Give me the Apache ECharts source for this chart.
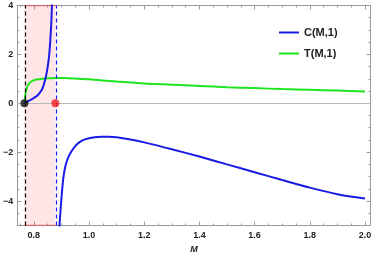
<!DOCTYPE html>
<html><head><meta charset="utf-8">
<script src="https://cdn.jsdelivr.net/npm/echarts@6/dist/echarts.min.js"></script>
<style>html,body{margin:0;padding:0;background:#fff}#c{width:375px;height:262px}</style>
</head><body><div id="c"></div>
<script>
// ---- data ----
const xTickLabels = [0.8, 1.0, 1.2, 1.4, 1.6, 1.8, 2.0];
const yTickLabels = [-4, -2, 0, 2, 4];
const xMinorTicks = [0.75,0.8,0.85,0.9,0.95,1.0,1.05,1.1,1.15,1.2,1.25,1.3,1.35,1.4,1.45,1.5,1.55,1.6,1.65,1.7,1.75,1.8,1.85,1.9,1.95,2.0];
const yMinorTicks = [-5,-4.5,-4,-3.5,-3,-2.5,-2,-1.5,-1,-0.5,0,0.5,1,1.5,2,2.5,3,3.5,4];
const criticalM = [0.766, 0.878];   // black dashed / blue dashed positions
const xRange = [0.74, 2.02];
const yRange = [-5, 4];

const cBranch1M = [0.766,0.775,0.785,0.795,0.805,0.815,0.825,0.832,0.839,0.845,0.851,0.855,0.858,0.861,0.863,0.865,0.866];
const cBranch1  = [0,    0.06, 0.12, 0.18, 0.25, 0.34, 0.48, 0.62, 0.88, 1.15, 1.55, 1.9,  2.3,  2.8,  3.2,  3.8,  4.2];

const cBranch2M = [0.890,0.893,0.896,0.899,0.903,0.907,0.912,0.918,0.926,0.936,0.948,0.960,0.98,1.0,1.02,1.045,1.07,1.1,1.15,1.2,1.3,1.4,1.5,1.6,1.7,1.8,1.9,2.0];
const cBranch2  = [-5.6,-5.0,-4.5,-4.05,-3.5,-3.05,-2.7,-2.42,-2.18,-1.97,-1.78,-1.64,-1.5,-1.43,-1.39,-1.37,-1.37,-1.39,-1.48,-1.6,-1.88,-2.18,-2.5,-2.82,-3.14,-3.45,-3.72,-3.9];

const tM = [0.766,0.7675,0.769,0.771,0.774,0.778,0.783,0.79,0.80,0.815,0.83,0.85,0.88,0.91,0.95,1.0,1.1,1.2,1.3,1.4,1.5,1.6,1.7,1.8,1.9,2.0];
const tV = [0,    0.2,   0.32, 0.46, 0.6,  0.72, 0.81, 0.88,0.94,0.98, 1.0, 1.02,1.03,1.03,1.01,0.98,0.89,0.81,0.76,0.71,0.66,0.62,0.58,0.55,0.52,0.48];

const zip = (a, b) => a.map((v, i) => [v, b[i]]);

const frameColor = '#9a9a9a';
const font = 'Liberation Sans, Arial, sans-serif';

function xAx(pos, ticks, len, labels) {
  return {
    type: 'value', position: pos, min: xRange[0], max: xRange[1],
    axisLine: { show: true, onZero: false, lineStyle: { color: frameColor, width: 1 } },
    axisTick: { show: true, inside: true, length: len, customValues: ticks, lineStyle: { color: frameColor } },
    axisLabel: labels ? { show: true, customValues: xTickLabels, formatter: v => v.toFixed(1), color: '#222', fontSize: 9, fontWeight: 'bold', fontFamily: font, margin: 6 } : { show: false },
    splitLine: { show: false },
    name: labels ? 'M' : '', nameLocation: 'middle', nameGap: 20,
    nameTextStyle: { fontStyle: 'italic', fontWeight: 'bold', fontSize: 9, color: '#222', fontFamily: font }
  };
}
function yAx(pos, ticks, len, labels) {
  return {
    type: 'value', position: pos, min: yRange[0], max: yRange[1],
    axisLine: { show: true, onZero: false, lineStyle: { color: frameColor, width: 1 } },
    axisTick: { show: true, inside: true, length: len, customValues: ticks, lineStyle: { color: frameColor } },
    axisLabel: labels ? { show: true, customValues: yTickLabels, formatter: v => (v < 0 ? '\u2212' + (-v) : String(v)), color: '#222', fontSize: 9, fontWeight: 'bold', fontFamily: font, margin: 4 } : { show: false },
    splitLine: { show: false }
  };
}

const chart = echarts.init(document.getElementById('c'), null, { renderer: 'canvas' });
chart.setOption({
  animation: false,
  backgroundColor: '#fff',
  grid: { left: 16, right: 4.5, top: 5.5, bottom: 36.5, containLabel: false },
  xAxis: [xAx('bottom', xTickLabels, 4, true), xAx('bottom', xMinorTicks, 2, false), xAx('top', xTickLabels, 4, false), xAx('top', xMinorTicks, 2, false)],
  yAxis: [yAx('left', yTickLabels, 4, true), yAx('left', yMinorTicks, 2, false), yAx('right', yTickLabels, 4, false), yAx('right', yMinorTicks, 2, false)],
  legend: {
    data: ['C(M,1)', 'T(M,1)'], orient: 'vertical', left: 274, top: 21,
    icon: 'rect', itemWidth: 20, itemHeight: 2, itemGap: 8,
    textStyle: { fontSize: 11, color: '#222', fontFamily: font, fontWeight: 'bold', lineHeight: 13 }
  },
  series: [
    {
      name: 'region', type: 'line', data: [[criticalM[0], yRange[1]], [criticalM[1], yRange[1]]],
      symbol: 'none', lineStyle: { color: 'rgba(225,90,90,0.7)', width: 1.5 }, z: 1, silent: true,
      markArea: { silent: true, itemStyle: { color: 'rgba(255,40,40,0.12)' }, data: [[{ xAxis: criticalM[0] }, { xAxis: criticalM[1] }]] },
      markLine: {
        silent: true, symbol: 'none', label: { show: false },
        data: [
          { yAxis: 0, lineStyle: { color: '#b8b8b8', width: 1, type: 'solid' } },
          { xAxis: criticalM[0], lineStyle: { color: '#000', width: 1.2, type: [4, 3] } },
          { xAxis: criticalM[1], lineStyle: { color: '#1a1aff', width: 1.2, type: [4, 3] } }
        ]
      }
    },
    {
      name: 'regionB', type: 'line', data: [[criticalM[0], yRange[0]], [criticalM[1], yRange[0]]],
      symbol: 'none', lineStyle: { color: 'rgba(225,90,90,0.7)', width: 1.5 }, z: 1, silent: true
    },
    { name: 'T(M,1)', type: 'line', data: zip(tM, tV), symbol: 'none', smooth: 0.3, lineStyle: { color: '#1ee61e', width: 2 }, itemStyle: { color: '#1ee61e' }, z: 3 },
    { name: 'C(M,1)', type: 'line', data: zip(cBranch1M, cBranch1), symbol: 'none', smooth: 0.3, lineStyle: { color: '#1a1ae6', width: 2 }, itemStyle: { color: '#1a1ae6' }, z: 4 },
    { name: 'C(M,1)', type: 'line', data: zip(cBranch2M, cBranch2), symbol: 'none', smooth: 0.3, lineStyle: { color: '#1a1ae6', width: 2 }, itemStyle: { color: '#1a1ae6' }, z: 4 },
    { name: 'pt0', type: 'scatter', data: [[criticalM[0], 0]], symbolSize: 8, itemStyle: { color: '#111' }, z: 6 },
    { name: 'pt1', type: 'scatter', data: [[criticalM[1], 0]], symbolSize: 8, itemStyle: { color: '#f01e1e' }, z: 6 }
  ]
});
</script></body></html>
